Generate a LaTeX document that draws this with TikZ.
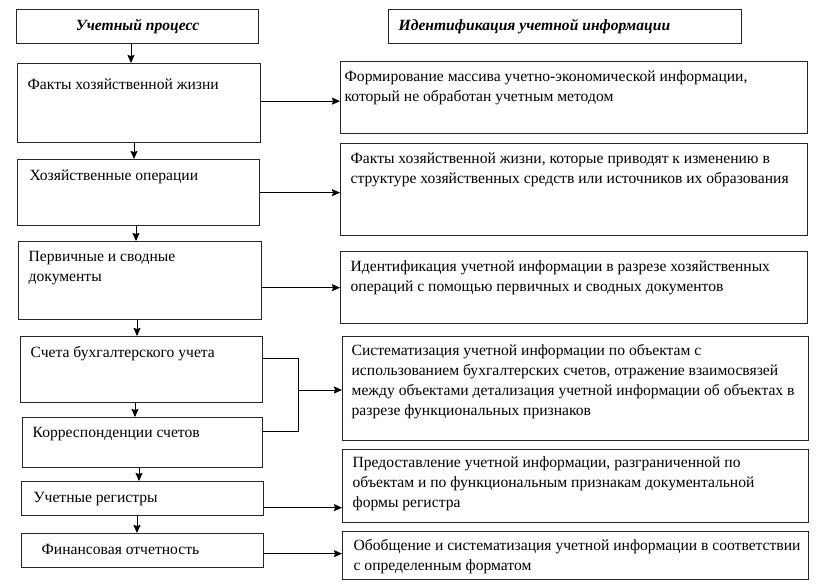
\documentclass[tikz,border=0pt]{standalone}
\usepackage{fontspec}
\setmainfont{Liberation Serif}
\usetikzlibrary{arrows.meta}
\tikzset{
  bx/.style={draw=black!85, line width=1.3pt, anchor=north west, inner sep=0pt},
  arr/.style={draw=black, line width=0.9pt, -{Stealth[length=8pt,width=7pt,inset=1pt]}},
  ln/.style={draw=black, line width=0.9pt},
  every node/.style={font=\fontsize{15.6}{20}\selectfont}
}
% name, x, y, w, h, text, left pad, first baseline
\newcommand\bx[8]{\node[bx] (#1) at (#2,#3) {\parbox[b][#5pt][t]{#4pt}{\raggedright\leftskip=#7pt\noindent\rule{0pt}{#8pt}#6\par}};}
\begin{document}
\begin{tikzpicture}[x=1pt,y=-1pt]
\useasboundingbox (0,0) rectangle (823,586);
% headers
\bx{h1}{16}{9}{242}{34}{\centering\bfseries\itshape Учетный процесс}{0}{21}
\bx{h2}{388}{9}{353}{34}{\bfseries\itshape Идентификация учетной информации}{10}{21}
% left column
\bx{f1}{17}{63}{243}{79}{Факты хозяйственной жизни}{10}{26}
\bx{f2}{17}{159}{242}{66}{Хозяйственные операции}{12}{21}
\bx{f3}{18}{241}{243}{78}{Первичные и сводные\\документы}{10}{20}
\bx{f4}{20}{336}{242}{66}{Счета бухгалтерского учета}{10}{21}
\bx{f5}{22}{417}{240}{50}{Корреспонденции счетов}{10}{20}
\bx{f6}{21}{481}{242}{34}{Учетные регистры}{12}{21}
\bx{f7}{21}{533}{242}{34}{Финансовая отчетность}{20}{21}
% right column
\bx{r1}{340}{61}{467}{72}{Формирование массива учетно-экономической информации,\\который не обработан учетным методом}{4}{20}
\bx{r2}{340}{143}{467}{92}{Факты хозяйственной жизни, которые приводят к изменению в\\структуре хозяйственных средств или источников их образования}{10}{20}
\bx{r3}{340}{251}{467}{72}{Идентификация учетной информации в разрезе хозяйственных\\операций с помощью первичных и сводных документов}{10}{20}
\bx{r4}{342}{336}{466}{104}{Систематизация учетной информации по объектам с\\использованием бухгалтерских счетов, отражение взаимосвязей\\между объектами детализация учетной информации об объектах в\\разрезе функциональных признаков}{9}{19}
\bx{r5}{342}{449}{466}{73}{Предоставление учетной информации, разграниченной по\\объектам и по функциональным признакам документальной\\формы регистра}{10}{18}
\bx{r6}{342}{531}{466}{48}{Обобщение и систематизация учетной информации в соответствии\\с определенным форматом}{11}{19}
% vertical arrows
\coordinate (va) at (131,0);
\coordinate (vb) at (134,0);
\coordinate (vc) at (136,0);
\coordinate (vd) at (137,0);
\coordinate (ve) at (135,0);
\coordinate (vf) at (139,0);
\coordinate (vg) at (137,0);
\draw[arr] (h1.south -| va) -- (f1.north -| va);
\draw[arr] (f1.south -| vb) -- (f2.north -| vb);
\draw[arr] (f2.south -| vc) -- (f3.north -| vc);
\draw[arr] (f3.south -| vd) -- (f4.north -| vd);
\draw[arr] (f4.south -| ve) -- (f5.north -| ve);
\draw[arr] (f5.south -| vf) -- (f6.north -| vf);
\draw[arr] (f6.south -| vg) -- (f7.north -| vg);
% horizontal arrows
\draw[arr] ([yshift=2pt]f1.east) -- ([yshift=2pt]f1.east -| r1.west);
\draw[arr] (f2.east) -- (f2.east -| r2.west);
\draw[arr] (r3.west -| f3.east) -- (r3.west);
\coordinate (j) at (298,390);
\draw[ln] ([yshift=11pt]f4.east) -- ([yshift=11pt]f4.east -| j) -- ([yshift=11pt]f5.east -| j) -- ([yshift=11pt]f5.east);
\draw[arr] (j) -- (j -| r4.west);
\draw[arr] ([yshift=-9pt]f6.east) -- ([yshift=-9pt]f6.east -| r5.west);
\draw[arr] ([yshift=-3pt]f7.east) -- ([yshift=-3pt]f7.east -| r6.west);
\end{tikzpicture}
\end{document}
